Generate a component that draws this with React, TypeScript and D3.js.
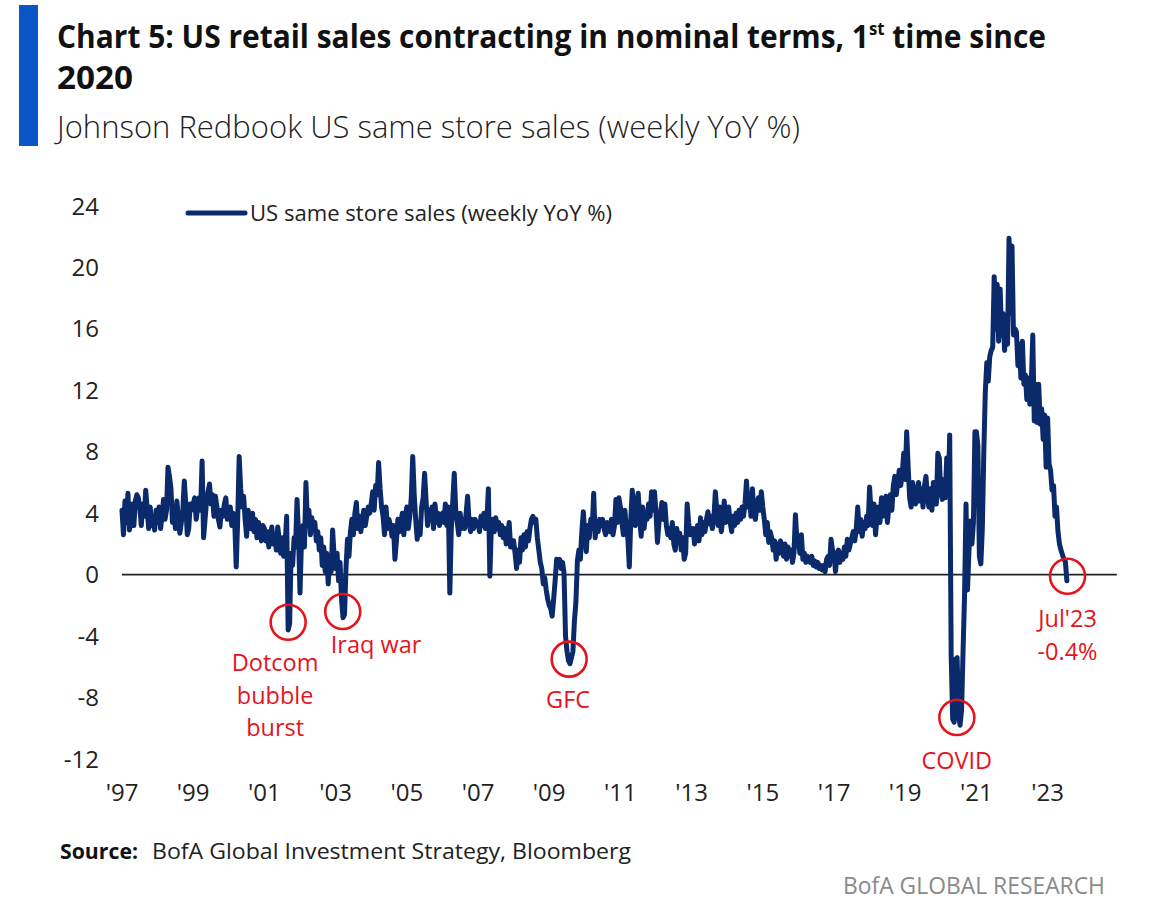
import React, { useLayoutEffect, useRef, useState } from 'react'
import * as d3 from 'd3'

// Johnson Redbook same store sales, weekly YoY %, sampled twice a month
const y1997 = [4.2, 2.6, 4.8, 3.4, 5.3, 2.9, 3.4, 4.6, 3.2, 4.8, 5.2, 5.0, 4.4, 3.2, 4.6, 3.8, 5.5, 4.2, 3.0, 4.4, 3.2, 3.8, 2.9, 4.2]
const y1998 = [3.4, 4.4, 3.0, 3.8, 4.9, 3.6, 4.2, 7.0, 6.4, 5.6, 3.4, 4.4, 3.0, 4.8, 3.6, 2.7, 3.4, 4.2, 6.1, 4.6, 2.6, 3.0, 4.6, 4.2]
const y1999 = [4.6, 5.0, 3.6, 4.4, 5.0, 4.2, 7.4, 2.4, 3.6, 4.8, 5.4, 5.9, 4.6, 5.2, 3.8, 5.1, 4.4, 3.6, 3.1, 4.2, 3.8, 4.6, 5.0, 3.6]
const y2000 = [3.8, 4.4, 3.2, 4.0, 3.4, 0.5, 3.6, 7.7, 5.6, 4.4, 5.1, 3.6, 2.5, 4.2, 3.4, 3.0, 4.0, 2.8, 3.6, 2.4, 3.4, 3.0, 2.2, 3.2]
const y2001 = [3.0, 2.2, 2.8, 1.8, 2.6, 3.1, 2.0, 2.6, 1.6, 3.1, 2.3, 1.4, 2.4, 1.2, 2.0, 3.8, -3.6, -3.2, 1.4, 0.6, 2.4, 1.8, 4.9, 2.6]
const y2002 = [-1.2, 2.2, 3.2, 1.8, 6.0, 3.4, 4.2, 2.6, 3.7, 3.0, 3.4, 2.2, 2.8, 1.6, 2.4, 0.6, 1.8, 0.2, 1.4, -0.6, 1.0, 0.2, 2.9, 1.2]
const y2003 = [0.4, 1.4, -0.4, 0.8, -1.6, -2.8, -2.6, 0.4, 2.3, 1.2, 2.8, 3.6, 2.6, 4.0, 4.7, 3.0, 3.8, 2.8, 3.6, 4.2, 3.2, 3.8, 4.4, 4.0]
const y2004 = [4.6, 5.4, 4.2, 5.8, 5.2, 7.3, 5.6, 4.4, 3.8, 2.6, 4.4, 3.0, 3.6, 3.2, 2.5, 3.2, 1.0, 2.2, 3.6, 2.8, 3.4, 4.0, 2.6, 3.8]
const y2005 = [4.4, 3.0, 3.8, 5.0, 7.7, 5.2, 3.6, 2.3, 3.4, 2.6, 4.4, 5.0, 6.6, 4.8, 3.2, 4.2, 3.6, 4.4, 3.0, 4.6, 3.4, 4.0, 3.2, 3.8]
const y2006 = [4.0, 3.4, 4.6, 3.2, 4.4, -1.2, 3.0, 4.8, 6.6, 4.2, 3.4, 2.6, 4.0, 3.0, 3.6, 3.0, 4.0, 5.1, 3.4, 2.8, 3.6, 3.0, 3.6, 3.2]
const y2007 = [3.4, 2.8, 3.8, 3.2, 4.0, 3.0, 3.6, 5.6, -0.1, 3.2, 3.6, 2.8, 3.7, 3.0, 3.4, 2.6, 3.2, 2.4, 3.0, 2.0, 2.6, 3.4, 1.8, 2.2]
const y2008 = [2.2, 1.4, 0.4, 1.6, 0.8, 2.4, 1.6, 2.6, 1.8, 2.8, 2.2, 3.0, 3.6, 3.8, 3.4, 3.6, 2.4, 1.6, 0.8, 0.4, -0.6, -0.2, -1.0, -1.6]
const y2009 = [-2.0, -2.2, -2.7, -1.6, -0.4, 1.0, 0.6, 1.0, 0.4, 0.8, 0.1, -4.0, -5.0, -5.6, -5.8, -5.4, -5.0, -3.0, -1.8, 0.9, 1.6, 1.0, 2.8, 4.1]
const y2010 = [2.6, 1.5, 3.2, 2.4, 3.6, 3.0, 5.3, 2.4, 3.4, 2.8, 3.6, 3.2, 3.6, 3.0, 2.6, 3.4, 3.0, 2.8, 3.6, 2.6, 3.2, 4.9, 3.4, 5.0]
const y2011 = [4.4, 3.4, 2.6, 4.2, 3.0, 2.4, 0.5, 3.6, 5.5, 4.4, 3.2, 4.6, 5.3, 3.6, 2.5, 4.4, 3.0, 4.0, 3.6, 4.6, 3.8, 5.4, 4.2, 5.4]
const y2012 = [4.0, 2.1, 3.4, 4.0, 4.7, 3.6, 4.6, 3.2, 2.6, 3.0, 2.4, 3.4, 2.0, 1.6, 3.0, 2.2, 2.7, 1.6, 2.4, 1.0, 1.4, 4.6, 3.4, 2.6]
const y2013 = [2.8, 3.0, 2.0, 2.6, 3.2, 2.2, 3.7, 2.6, 3.4, 2.8, 3.6, 4.1, 3.3, 3.8, 3.0, 3.6, 5.4, 4.2, 3.2, 4.4, 2.8, 3.6, 4.8, 3.4]
const y2014 = [3.6, 4.4, 3.4, 2.8, 3.8, 3.2, 4.0, 3.4, 4.2, 3.6, 4.4, 3.8, 4.6, 6.1, 4.4, 5.2, 3.8, 5.6, 4.0, 3.6, 4.4, 5.0, 4.2, 5.4]
const y2015 = [4.4, 3.6, 2.6, 3.4, 2.1, 2.8, 2.4, 1.6, 2.2, 1.0, 2.0, 1.4, 2.2, 1.6, 1.2, 2.0, 1.0, 1.8, 1.2, 1.6, 0.8, 1.4, 3.9, 2.2]
const y2016 = [2.2, 1.4, 2.6, 1.0, 1.4, 0.8, 1.2, 1.0, 0.8, 1.2, 0.6, 0.9, 0.5, 0.8, 0.4, 0.6, 0.3, 0.6, 0.2, 1.0, 1.2, 0.6, 2.3, 1.6]
const y2017 = [1.4, 0.2, 1.2, 1.6, 0.8, 1.4, 1.0, 1.8, 1.2, 2.3, 1.6, 2.0, 2.4, 2.8, 2.2, 3.0, 4.4, 2.8, 3.6, 2.5, 3.4, 3.0, 3.8, 3.2]
const y2018 = [5.7, 4.0, 3.2, 4.6, 2.6, 3.8, 4.4, 3.4, 5.0, 3.8, 4.6, 5.1, 3.4, 4.4, 5.2, 4.2, 5.8, 6.4, 5.2, 6.0, 6.8, 5.8, 6.6, 7.9]
const y2019 = [6.2, 9.3, 7.0, 5.0, 4.4, 6.0, 5.2, 4.6, 5.4, 6.0, 4.8, 5.6, 4.4, 5.8, 6.4, 5.0, 4.4, 5.6, 4.2, 6.0, 5.2, 4.6, 7.9, 7.6]
const y2020 = [5.3, 4.9, 6.2, 5.0, 7.6, 5.2, 9.1, -5.3, -9.4, -9.6, -5.5, -5.4, -9.2, -9.8, -8.8, -5.0, -1.4, 4.6, -1.0, 1.6, 3.5, 2.0, 3.4, 9.3]
const y2021 = [9.3, 8.4, 1.2, 0.7, 3.0, 8.0, 11.9, 13.8, 12.6, 14.2, 14.6, 14.8, 19.4, 16.0, 18.9, 15.2, 18.6, 15.6, 17.0, 14.6, 16.2, 15.0, 21.9, 17.0]
const y2022 = [21.4, 15.6, 16.0, 15.8, 13.6, 15.0, 12.8, 15.2, 12.4, 13.0, 11.4, 12.8, 11.1, 12.4, 15.6, 10.0, 12.4, 9.9, 12.4, 9.8, 10.8, 8.8, 10.4, 7.0]
const y2023 = [10.2, 7.2, 6.8, 5.5, 5.8, 3.8, 4.4, 2.8, 2.0, 1.6, 1.3, 1.0, 0.85, -0.4]

const years: [number, number[]][] = [
  [1997, y1997], [1998, y1998], [1999, y1999], [2000, y2000], [2001, y2001],
  [2002, y2002], [2003, y2003], [2004, y2004], [2005, y2005], [2006, y2006],
  [2007, y2007], [2008, y2008], [2009, y2009], [2010, y2010], [2011, y2011],
  [2012, y2012], [2013, y2013], [2014, y2014], [2015, y2015], [2016, y2016],
  [2017, y2017], [2018, y2018], [2019, y2019], [2020, y2020], [2021, y2021],
  [2022, y2022], [2023, y2023],
]
const STEPS_PER_YEAR = 24

const yTicks = [24, 20, 16, 12, 8, 4, 0, -4, -8, -12]
const xTicks = [1997, 1999, 2001, 2003, 2005, 2007, 2009, 2011, 2013, 2015, 2017, 2019, 2021, 2023]
const xTickLabels = ["'97", "'99", "'01", "'03", "'05", "'07", "'09", "'11", "'13", "'15", "'17", "'19", "'21", "'23"]

// circled events: name lines, date, value
const eventNames = [['Dotcom', 'bubble', 'burst'], ['Iraq war'], ['GFC'], ['COVID'], ["Jul'23", '-0.4%']]
const eventDates = [2001.667, 2003.2, 2009.56, 2020.45, 2023.56]
const eventValues = [-3.1, -2.4, -5.5, -9.3, -0.1]

const FONT = "'Open Sans', 'Liberation Sans', sans-serif"
const NAVY = '#0b2a6b'
const RED = '#e5141c'
const TITLE_WIDTH = 989

export default function App() {
  const width = 1153
  const height = 916

  // the title is one line of bold text squeezed horizontally to fit its box
  const titleRef = useRef<SVGTextElement>(null)
  const [titleScale, setTitleScale] = useState(0.82)
  useLayoutEffect(() => {
    const el = titleRef.current
    if (!el) return
    const w = el.getBBox().width
    if (w > 0) setTitleScale(TITLE_WIDTH / w)
  }, [])

  const x = d3.scaleLinear().domain([1997, 2025]).range([122, 1118.8])
  const y = d3.scaleLinear().domain([-12, 24]).range([759, 206])

  const series = years.flatMap(([yr, vals]) =>
    vals.map((v, i) => ({ date: yr + i / STEPS_PER_YEAR, value: v })))

  const line = d3.line<{ date: number; value: number }>()
    .x(d => x(d.date))
    .y(d => y(d.value))

  // label placement around each circle
  const labelLayout = [
    { dx: -13, dy: 49, anchor: 'middle' },
    { dx: -12, dy: 41, anchor: 'start' },
    { dx: -1, dy: 49, anchor: 'middle' },
    { dx: 0, dy: 51, anchor: 'middle' },
    { dx: 0, dy: 51, anchor: 'middle' },
  ]

  return (
    <svg width={width} height={height} style={{ position: 'absolute', left: 0, top: 0, background: '#fff' }}
      fontFamily={FONT}>
      <rect x={19} y={5} width={19} height={141} fill="#0a55c8" />
      <g fontWeight={700} fontSize={32} fill="#111">
        <g transform={`translate(57,48) scale(${titleScale},1)`}>
          <text ref={titleRef} x={0} y={0}>
            Chart 5: US retail sales contracting in nominal terms, 1<tspan fontSize={18} dy={-13}>st</tspan><tspan dy={13}> time since</tspan>
          </text>
        </g>
        <text x={57} y={89} textLength={76} lengthAdjust="spacingAndGlyphs">2020</text>
      </g>
      <text x={57} y={138} fontSize={31} fontWeight={300} fill="#222" textLength={743} lengthAdjust="spacingAndGlyphs">
        Johnson Redbook US same store sales (weekly YoY %)
      </text>

      {/* y axis labels */}
      <g fontSize={24} fill="#222" textAnchor="end">
        {yTicks.map(t => (
          <text key={t} x={99} y={y(t) + 8.5}>{t}</text>
        ))}
      </g>
      {/* x axis labels */}
      <g fontSize={24} fill="#222" textAnchor="middle">
        {xTicks.map((t, i) => (
          <text key={t} x={x(t)} y={801}>{xTickLabels[i]}</text>
        ))}
      </g>

      <line x1={x(1997)} x2={x(2025) - 2} y1={y(0)} y2={y(0)} stroke="#222" strokeWidth={1.6} />

      <path d={line(series) ?? ''} fill="none" stroke={NAVY} strokeWidth={5} strokeLinejoin="round" strokeLinecap="round" />

      {/* legend */}
      <line x1={188} x2={245} y1={213} y2={213} stroke={NAVY} strokeWidth={5} strokeLinecap="round" />
      <text x={250} y={221} fontSize={21} fill="#222" textLength={362} lengthAdjust="spacingAndGlyphs">US same store sales (weekly YoY %)</text>

      {/* event callouts */}
      {eventNames.map((names, i) => {
        const cx = x(eventDates[i])
        const cy = y(eventValues[i])
        const lay = labelLayout[i]
        return (
          <g key={i}>
            <circle cx={cx} cy={cy} r={17.5} fill="none" stroke={RED} strokeWidth={2.6} />
            {names.map((n, j) => (
              <text key={j} x={cx + lay.dx} y={cy + lay.dy + j * 32.5} fontSize={23.5} fill={RED}
                textAnchor={lay.anchor}>{n}</text>
            ))}
          </g>
        )
      })}

      <text x={60} y={859} fontSize={22} fontWeight={700} fill="#111" textLength={78} lengthAdjust="spacingAndGlyphs">Source:</text>
      <text x={152} y={859} fontSize={22} fill="#222" textLength={479} lengthAdjust="spacingAndGlyphs">BofA Global Investment Strategy, Bloomberg</text>
      <text x={843} y={894} fontSize={23} fill="#8a8a8a" textLength={262} lengthAdjust="spacingAndGlyphs">BofA GLOBAL RESEARCH</text>
    </svg>
  )
}
